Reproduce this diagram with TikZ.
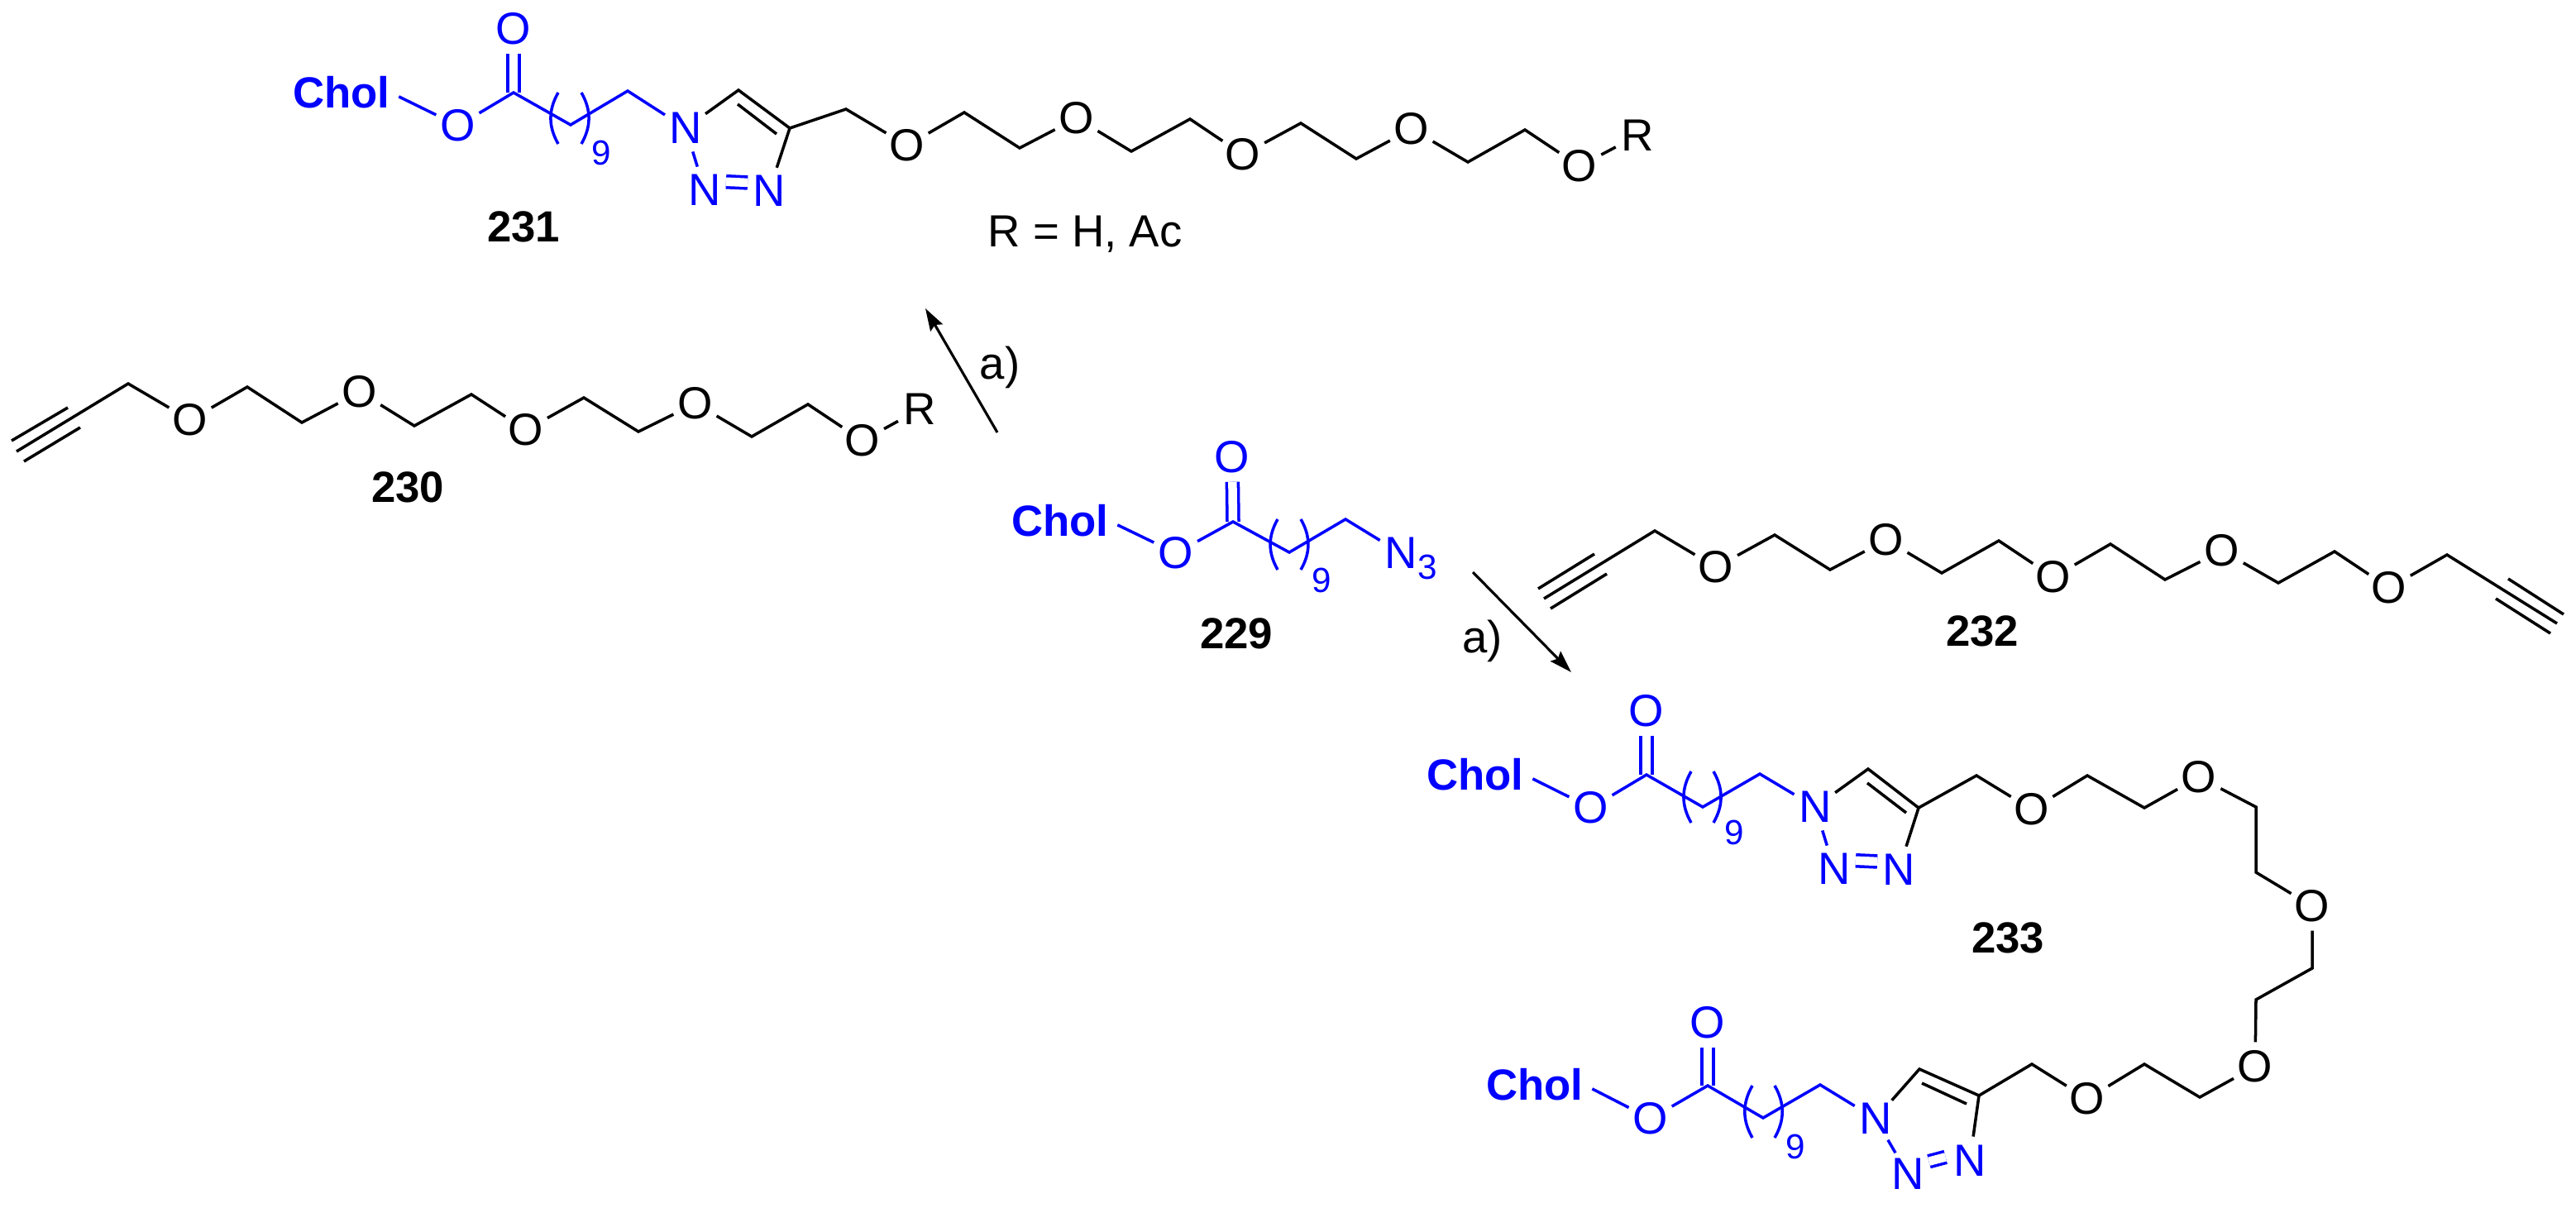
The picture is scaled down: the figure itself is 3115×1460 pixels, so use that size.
\documentclass[tikz,border=0pt]{standalone}
\usepackage{fontspec}
\setmainfont{Liberation Sans}
\usepackage{tikz}
\usetikzlibrary{arrows.meta}
\tikzset{>=latex}
\tikzstyle{bond} = [line width=1pt, line join=miter]
\tikzstyle{bondd} = [bond, double, double distance=0.105cm]
\tikzstyle{atom} = [circle, draw=none, inner sep=0pt, minimum size=0.58cm, font=\fontsize{15.5}{18}\selectfont]
\tikzstyle{chol} = [draw=none, inner sep=0.1cm, text=blue, font=\fontsize{15}{18}\selectfont\bfseries]
\tikzstyle{cmpd} = [draw=none, inner sep=1, font=\fontsize{15}{18}\selectfont\bfseries]
\tikzstyle{plain} = [draw=none, inner sep=1, font=\fontsize{15.5}{18}\selectfont]
\tikzstyle{subs} = [draw=none, inner sep=0, text=blue, font=\fontsize{12}{14}\selectfont]
\tikzstyle{rxn} = [line width=0.9pt, -{Stealth[length=0.27cm, width=0.17cm, inset=0.04cm]}]
\begin{document}
\begin{tikzpicture}[x=0.01cm, y=-0.01cm]
\useasboundingbox (0, 0) rectangle (3115, 1460);

\node [chol] (Chola) at (413, 112) {Chol};
\node [atom, text=blue] (Oa1) at (554, 152) {O};
\node [atom, text=blue] (Oa2) at (621, 35) {O};
\node [atom, text=blue] (Na1) at (829, 155) {N};
\node [atom, text=blue] (Na2) at (852, 230) {N};
\node [atom, text=blue] (Na3) at (930, 231) {N};
\node [subs] (na) at (727, 185) {9};
\node [atom] (Oa3) at (1097, 176) {O};
\node [atom] (Oa4) at (1302, 143) {O};
\node [atom] (Oa5) at (1503, 187) {O};
\node [atom] (Oa6) at (1707, 156) {O};
\node [atom] (Oa7) at (1910, 201) {O};
\node [atom] (Ra) at (1980, 164) {R};
\node [cmpd] (la) at (633, 274) {231};
\node [plain] (rdef) at (1312, 283) {R = H, Ac};
\coordinate (Ca1) at (621, 112);
\coordinate (Ca2) at (690, 151);
\coordinate (Ca3) at (759, 110);
\coordinate (Ca4) at (893, 109);
\coordinate (Ca5) at (955, 155);
\coordinate (Ca6) at (1023, 132);
\coordinate (Ca7) at (1166, 136);
\coordinate (Ca8) at (1233, 179);
\coordinate (Ca9) at (1368, 183);
\coordinate (Ca10) at (1439, 144);
\coordinate (Ca11) at (1573, 149);
\coordinate (Ca12) at (1640, 192);
\coordinate (Ca13) at (1775, 196);
\coordinate (Ca14) at (1844, 157);
\coordinate (ia1) at (892, 126);
\coordinate (ia2) at (939, 162);
\coordinate (ba1) at (675, 112);
\coordinate (ba2) at (675, 174);
\coordinate (ba3) at (703, 112);
\coordinate (ba4) at (703, 174);
\draw [bondd, blue] (Oa2) to (Ca1);
\draw [bond, blue] (Chola.-4) to (Oa1);
\draw [bond, blue] (Oa1) to (Ca1) to (Ca2) to (Ca3) to (Na1);
\draw [bond, blue] (Na1) to (Na2);
\draw [bondd, blue, shorten <=-0.02cm, shorten >=-0.02cm] (Na2.20) to (Na3.160);
\draw [bond, blue] (ba1) to [bend right=30] (ba2);
\draw [bond, blue] (ba3) to [bend left=30] (ba4);
\draw [bond] (Na1) to (Ca4) to (Ca5) to (Na3);
\draw [bond] (ia1) to (ia2);
\draw [bond] (Ca5) to (Ca6) to (Oa3);
\draw [bond] (Oa3) to (Ca7) to (Ca8) to (Oa4);
\draw [bond] (Oa4) to (Ca9) to (Ca10) to (Oa5);
\draw [bond] (Oa5) to (Ca11) to (Ca12) to (Oa6);
\draw [bond] (Oa6) to (Ca13) to (Ca14) to (Oa7);
\draw [bond] (Oa7) to (Ra);

\node [atom] (Ob1) at (230, 508) {O};
\node [atom] (Ob2) at (435, 474) {O};
\node [atom] (Ob3) at (636, 520) {O};
\node [atom] (Ob4) at (841, 488) {O};
\node [atom] (Ob5) at (1043, 533) {O};
\node [atom] (Rb) at (1112, 495) {R};
\node [cmpd] (lb) at (493, 589) {230};
\coordinate (Cb0) at (20, 546);
\coordinate (Cb1) at (155, 464);
\coordinate (Cb2) at (299, 468);
\coordinate (Cb3) at (365, 511);
\coordinate (Cb4) at (501, 515);
\coordinate (Cb5) at (570, 477);
\coordinate (Cb6) at (706, 481);
\coordinate (Cb7) at (772, 522);
\coordinate (Cb8) at (909, 528);
\coordinate (Cb9) at (977, 489);
\coordinate (tb1) at (14, 533);
\coordinate (tb2) at (82, 493);
\coordinate (tb3) at (29, 558);
\coordinate (tb4) at (97, 517);
\draw [bond] (tb1) to (tb2);
\draw [bond] (tb3) to (tb4);
\draw [bond] (Cb0) to (Cb1) to (Ob1);
\draw [bond] (Ob1) to (Cb2) to (Cb3) to (Ob2);
\draw [bond] (Ob2) to (Cb4) to (Cb5) to (Ob3);
\draw [bond] (Ob3) to (Cb6) to (Cb7) to (Ob4);
\draw [bond] (Ob4) to (Cb8) to (Cb9) to (Ob5);
\draw [bond] (Ob5) to (Rb);

\node [chol] (Cholc) at (1282, 630) {Chol};
\node [atom, text=blue] (Oc1) at (1422, 669) {O};
\node [atom, text=blue] (Oc2) at (1490, 553) {O};
\node [atom, text=blue] (Nc) at (1694, 669) {N};
\node [subs] (nc) at (1598, 702) {9};
\node [subs] (azc) at (1726, 686) {3};
\node [cmpd] (lc) at (1495, 766) {229};
\coordinate (Cc1) at (1491, 631);
\coordinate (Cc2) at (1559, 668);
\coordinate (Cc3) at (1627, 628);
\coordinate (bc1) at (1545, 628);
\coordinate (bc2) at (1545, 689);
\coordinate (bc3) at (1573, 628);
\coordinate (bc4) at (1573, 689);
\draw [bondd, blue] (Oc2) to (Cc1);
\draw [bond, blue] (Cholc.-4) to (Oc1);
\draw [bond, blue] (Oc1) to (Cc1) to (Cc2) to (Cc3) to (Nc);
\draw [bond, blue] (bc1) to [bend right=30] (bc2);
\draw [bond, blue] (bc3) to [bend left=30] (bc4);

\node [atom] (Od1) at (2075, 686) {O};
\node [atom] (Od2) at (2281, 653) {O};
\node [atom] (Od3) at (2483, 698) {O};
\node [atom] (Od4) at (2687, 666) {O};
\node [atom] (Od5) at (2889, 711) {O};
\node [cmpd] (ld) at (2397, 763) {232};
\coordinate (Cd0) at (1867, 724);
\coordinate (Cd1) at (2001, 642);
\coordinate (Cd2) at (2146, 647);
\coordinate (Cd3) at (2213, 689);
\coordinate (Cd4) at (2348, 693);
\coordinate (Cd5) at (2417, 654);
\coordinate (Cd6) at (2552, 658);
\coordinate (Cd7) at (2618, 701);
\coordinate (Cd8) at (2755, 705);
\coordinate (Cd9) at (2823, 667);
\coordinate (Cd10) at (2959, 671);
\coordinate (Cd11) at (3092, 754);
\coordinate (td1) at (1860, 712);
\coordinate (td2) at (1928, 670);
\coordinate (td3) at (1875, 736);
\coordinate (td4) at (1943, 694);
\coordinate (td5) at (3033, 700);
\coordinate (td6) at (3100, 743);
\coordinate (td7) at (3018, 724);
\coordinate (td8) at (3084, 766);
\draw [bond] (td1) to (td2);
\draw [bond] (td3) to (td4);
\draw [bond] (td5) to (td6);
\draw [bond] (td7) to (td8);
\draw [bond] (Cd0) to (Cd1) to (Od1);
\draw [bond] (Od1) to (Cd2) to (Cd3) to (Od2);
\draw [bond] (Od2) to (Cd4) to (Cd5) to (Od3);
\draw [bond] (Od3) to (Cd6) to (Cd7) to (Od4);
\draw [bond] (Od4) to (Cd8) to (Cd9) to (Od5);
\draw [bond] (Od5) to (Cd10) to (Cd11);

\node [chol] (Chole) at (1784, 937) {Chol};
\node [atom, text=blue] (Oe1) at (1924, 977) {O};
\node [atom, text=blue] (Oe2) at (1991, 860) {O};
\node [atom, text=blue] (Ne1) at (2195, 976) {N};
\node [atom, text=blue] (Ne2) at (2218, 1051) {N};
\node [atom, text=blue] (Ne3) at (2296, 1052) {N};
\node [subs] (ne) at (2097, 1007) {9};
\node [cmpd] (le) at (2428, 1134) {233};
\node [atom] (Oe3) at (2457, 979) {O};
\node [atom] (Oe4) at (2659, 940) {O};
\node [atom] (Oe5) at (2796, 1096) {O};
\node [atom] (Oe6) at (2727, 1290) {O};
\node [atom] (Of3) at (2524, 1329) {O};
\coordinate (Ce1) at (1991, 937);
\coordinate (Ce2) at (2059, 976);
\coordinate (Ce3) at (2128, 936);
\coordinate (Ce4) at (2259, 930);
\coordinate (Ce5) at (2320, 977);
\coordinate (Ce6) at (2390, 938);
\coordinate (Ce7) at (2524, 938);
\coordinate (Ce8) at (2593, 977);
\coordinate (Ce9) at (2728, 976);
\coordinate (Ce10) at (2728, 1055);
\coordinate (Ce11) at (2796, 1171);
\coordinate (Ce12) at (2728, 1209);
\coordinate (Ce13) at (2660, 1327);
\coordinate (Ce14) at (2593, 1287);
\coordinate (ie1) at (2258, 947);
\coordinate (ie2) at (2305, 983);
\coordinate (be1) at (2045, 933);
\coordinate (be2) at (2045, 995);
\coordinate (be3) at (2072, 933);
\coordinate (be4) at (2072, 995);
\draw [bondd, blue] (Oe2) to (Ce1);
\draw [bond, blue] (Chole.-4) to (Oe1);
\draw [bond, blue] (Oe1) to (Ce1) to (Ce2) to (Ce3) to (Ne1);
\draw [bond, blue] (Ne1) to (Ne2);
\draw [bondd, blue, shorten <=-0.02cm, shorten >=-0.02cm] (Ne2.20) to (Ne3.160);
\draw [bond, blue] (be1) to [bend right=30] (be2);
\draw [bond, blue] (be3) to [bend left=30] (be4);
\draw [bond] (Ne1) to (Ce4) to (Ce5) to (Ne3);
\draw [bond] (ie1) to (ie2);
\draw [bond] (Ce5) to (Ce6) to (Oe3);
\draw [bond] (Oe3) to (Ce7) to (Ce8) to (Oe4);
\draw [bond] (Oe4) to (Ce9) to (Ce10) to (Oe5);
\draw [bond] (Oe5) to (Ce11) to (Ce12) to (Oe6);
\draw [bond] (Oe6) to (Ce13) to (Ce14) to (Of3);

\node [chol] (Cholf) at (1856, 1312) {Chol};
\node [atom, text=blue] (Of1) at (1996, 1353) {O};
\node [atom, text=blue] (Of2) at (2065, 1237) {O};
\node [atom, text=blue] (Nf1) at (2268, 1353) {N};
\node [atom, text=blue] (Nf2) at (2307, 1420) {N};
\node [atom, text=blue] (Nf3) at (2382, 1404) {N};
\node [subs] (nf) at (2171, 1387) {9};
\coordinate (Cf1) at (2065, 1313);
\coordinate (Cf2) at (2132, 1352);
\coordinate (Cf3) at (2201, 1312);
\coordinate (Cf4) at (2321, 1293);
\coordinate (Cf5) at (2393, 1325);
\coordinate (Cf6) at (2457, 1287);
\coordinate (if1) at (2324, 1310);
\coordinate (if2) at (2378, 1335);
\coordinate (bf1) at (2119, 1313);
\coordinate (bf2) at (2119, 1376);
\coordinate (bf3) at (2146, 1313);
\coordinate (bf4) at (2146, 1376);
\draw [bondd, blue] (Of2) to (Cf1);
\draw [bond, blue] (Cholf.-4) to (Of1);
\draw [bond, blue] (Of1) to (Cf1) to (Cf2) to (Cf3) to (Nf1);
\draw [bond, blue] (Nf1) to (Nf2);
\draw [bondd, blue] (Nf2.31) to (Nf3.171);
\draw [bond, blue] (bf1) to [bend right=30] (bf2);
\draw [bond, blue] (bf3) to [bend left=30] (bf4);
\draw [bond] (Nf1) to (Cf4) to (Cf5) to (Nf3);
\draw [bond] (if1) to (if2);
\draw [bond] (Cf5) to (Cf6) to (Of3);

\coordinate (ra1) at (1206, 523);
\coordinate (ra2) at (1119, 373);
\coordinate (rb1) at (1781, 692);
\coordinate (rb2) at (1900, 813);
\draw [rxn] (ra1) to node [plain, pos=0.47, xshift=0.44cm, yshift=0.08cm] (aa) {a)} (ra2);
\draw [rxn] (rb1) to node [plain, pos=0.55, xshift=-0.54cm, yshift=-0.17cm] (ab) {a)} (rb2);
\end{tikzpicture}
\end{document}
